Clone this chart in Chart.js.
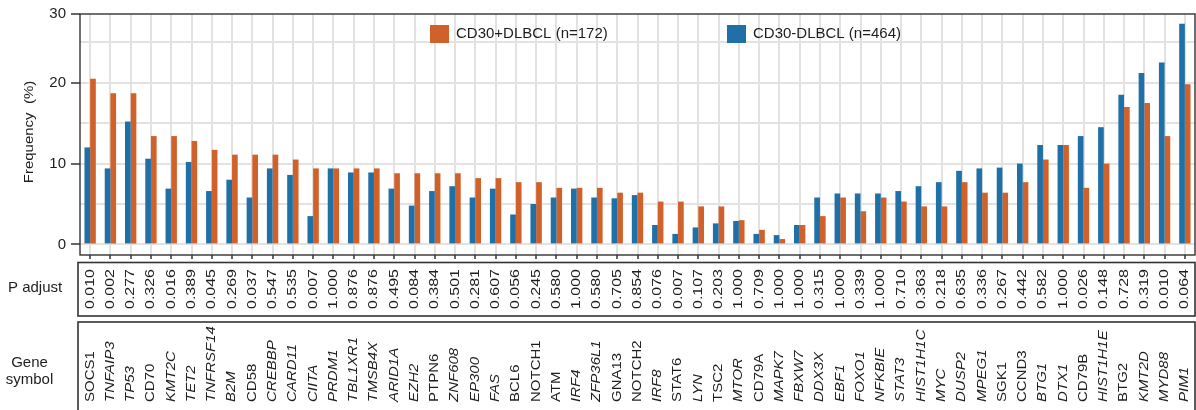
<!DOCTYPE html>
<html>
<head>
<meta charset="utf-8">
<script src="https://cdn.jsdelivr.net/npm/chart.js@4/dist/chart.umd.min.js"></script>
<style>
  html, body { margin: 0; padding: 0; background: #ffffff; }
  #wrap { width: 1196px; height: 410px; }
</style>
</head>
<body>
<div id="wrap"><canvas id="chart" width="1196" height="410"></canvas></div>
<script>
// Genes, ordered as drawn along the x axis
const genes = [
  'SOCS1','TNFAIP3','TP53','CD70','KMT2C','TET2','TNFRSF14','B2M','CD58','CREBBP',
  'CARD11','CIITA','PRDM1','TBL1XR1','TMSB4X','ARID1A','EZH2','PTPN6','ZNF608','EP300',
  'FAS','BCL6','NOTCH1','ATM','IRF4','ZFP36L1','GNA13','NOTCH2','IRF8','STAT6',
  'LYN','TSC2','MTOR','CD79A','MAPK7','FBXW7','DDX3X','EBF1','FOXO1','NFKBIE',
  'STAT3','HIST1H1C','MYC','DUSP2','MPEG1','SGK1','CCND3','BTG1','DTX1','CD79B',
  'HIST1H1E','BTG2','KMT2D','MYD88','PIM1'
];

// Adjusted p values per gene
const pAdjust = [
  '0.010','0.002','0.277','0.326','0.016','0.389','0.045','0.269','0.037','0.547',
  '0.535','0.007','1.000','0.876','0.876','0.495','0.084','0.384','0.501','0.281',
  '0.607','0.056','0.245','0.580','1.000','0.580','0.705','0.854','0.076','0.007',
  '0.107','0.203','1.000','0.709','1.000','1.000','0.315','1.000','0.339','1.000',
  '0.710','0.363','0.218','0.635','0.336','0.267','0.442','0.582','1.000','0.026',
  '0.148','0.728','0.319','0.010','0.064'
];

// Mutation frequency (%) in CD30-negative DLBCL
const cd30Negative = [
  12.0, 9.4, 15.2, 10.6, 6.9, 10.2, 6.6, 8.0, 5.8, 9.4,
  8.6, 3.5, 9.4, 8.9, 8.9, 6.9, 4.8, 6.6, 7.2, 5.8,
  6.9, 3.7, 5.0, 5.8, 6.9, 5.8, 5.7, 6.1, 2.4, 1.3,
  2.1, 2.6, 2.9, 1.3, 1.15, 2.4, 5.8, 6.3, 6.3, 6.3,
  6.6, 7.2, 7.7, 9.1, 9.4, 9.5, 10.0, 12.3, 12.3, 13.4,
  14.5, 18.5, 21.2, 22.5, 27.3
];

// Mutation frequency (%) in CD30-positive DLBCL
const cd30Positive = [
  20.5, 18.7, 18.7, 13.4, 13.4, 12.8, 11.7, 11.1, 11.1, 11.1,
  10.5, 9.4, 9.4, 9.4, 9.4, 8.8, 8.8, 8.8, 8.8, 8.2,
  8.2, 7.7, 7.7, 7.0, 7.0, 7.0, 6.4, 6.4, 5.3, 5.3,
  4.7, 4.7, 3.0, 1.8, 0.66, 2.4, 3.5, 5.8, 4.1, 5.8,
  5.3, 4.7, 4.7, 7.7, 6.4, 6.4, 7.7, 10.5, 12.3, 7.0,
  10.0, 17.0, 17.5, 13.4, 19.8
];

// Series names
const seriesNegative = 'CD30-DLBCL (n=464)';
const seriesPositive = 'CD30+DLBCL (n=172)';

// Y axis: gridlines every 5, labels at 0/10/20 and "30" at the top edge
const yGridValues = [0, 5, 10, 15, 20, 25];
const yLabelValues = [0, 10, 20];
const yTopLabel = '30';
const Y_MIN = -1.31;
const Y_MAX = 28.5;

// Gene symbols set in italics
const italicGenes = new Set([
  'TNFAIP3','TP53','KMT2C','TET2','TNFRSF14','B2M','CREBBP','CARD11','CIITA','PRDM1',
  'TBL1XR1','TMSB4X','ARID1A','EZH2','ZNF608','EP300','FAS','IRF4','ZFP36L1','IRF8',
  'LYN','MTOR','MAPK7','FBXW7','DDX3X','EBF1','FOXO1','NFKBIE','STAT3','HIST1H1C',
  'MYC','DUSP2','MPEG1','BTG1','DTX1','HIST1H1E','KMT2D','MYD88','PIM1'
]);

const BLUE = '#1f70a6';
const ORANGE = '#d1612a';
const FRAME = '#333333';
const GRID = '#e2e2e2';
const TEXT = '#1e1e1e';
const FAMILY = "'Liberation Sans', Arial, Helvetica, sans-serif";

function verticalText(ctx, text, x, y, align, font, squeeze) {
  ctx.save();
  ctx.translate(x, y);
  ctx.rotate(-Math.PI / 2);
  ctx.scale(1, squeeze);
  ctx.font = font;
  ctx.textAlign = align;
  ctx.textBaseline = 'middle';
  ctx.fillStyle = TEXT;
  ctx.fillText(text, 0, 0);
  ctx.restore();
}

// Frame, legend, axis title and the two annotation rows under the plot
const annotations = {
  id: 'annotations',
  afterDatasetsDraw(chart) {
    const { ctx, chartArea: a } = chart;
    ctx.save();
    ctx.strokeStyle = FRAME;
    ctx.lineWidth = 1.4;
    ctx.strokeRect(a.left, a.top, a.right - a.left, a.bottom - a.top);
    ctx.restore();
  },
  afterDraw(chart) {
    const { ctx, chartArea: a } = chart;
    const x = chart.scales.x;

    // legend inside the plot
    const items = [
      { label: seriesPositive, color: ORANGE, x: 430 },
      { label: seriesNegative, color: BLUE, x: 727 }
    ];
    ctx.save();
    ctx.font = '15px ' + FAMILY;
    ctx.textBaseline = 'middle';
    ctx.textAlign = 'left';
    items.forEach(it => {
      ctx.fillStyle = it.color;
      ctx.fillRect(it.x, 25, 19, 18);
      ctx.fillStyle = TEXT;
      ctx.fillText(it.label, it.x + 26, 34);
    });
    ctx.restore();

    // y axis title
    verticalText(ctx, 'Frequency  (%)', 29.5, 132, 'center', '15px ' + FAMILY, 0.86);

    // annotation boxes
    const boxLeft = a.left - 2;
    const boxRight = a.right;
    ctx.save();
    ctx.strokeStyle = FRAME;
    ctx.lineWidth = 1.6;
    ctx.strokeRect(boxLeft, 262.5, boxRight - boxLeft, 53.5);
    ctx.strokeRect(boxLeft, 322, boxRight - boxLeft, 100);
    ctx.restore();

    // row captions
    ctx.save();
    ctx.font = '15px ' + FAMILY;
    ctx.fillStyle = TEXT;
    ctx.textBaseline = 'middle';
    ctx.textAlign = 'left';
    ctx.fillText('P adjust', 8, 288);
    ctx.textAlign = 'center';
    ctx.fillText('Gene', 29.5, 363);
    ctx.fillText('symbol', 29.5, 380);
    ctx.restore();

    // p values and gene symbols, one column per category
    genes.forEach((g, i) => {
      const cx = x.getPixelForValue(i);
      verticalText(ctx, pAdjust[i], cx, 289, 'center', '16px ' + FAMILY, 0.8);
      const style = italicGenes.has(g) ? 'italic ' : '';
      verticalText(ctx, g, cx, 402, 'left', style + '15px ' + FAMILY, 0.82);
    });
  }
};

new Chart(document.getElementById('chart'), {
  type: 'bar',
  data: {
    labels: genes,
    datasets: [
      { label: seriesNegative, data: cd30Negative, backgroundColor: BLUE, borderWidth: 0 },
      { label: seriesPositive, data: cd30Positive, backgroundColor: ORANGE, borderWidth: 0 }
    ]
  },
  options: {
    responsive: false,
    animation: false,
    devicePixelRatio: 1,
    categoryPercentage: 0.56,
    barPercentage: 1.0,
    layout: { padding: { top: 12, right: 1, left: 0, bottom: 0 } },
    plugins: {
      legend: { display: false },
      tooltip: { enabled: false }
    },
    scales: {
      x: {
        type: 'category',
        offset: true,
        afterFit(scale) { scale.height = 155; },
        ticks: { display: false },
        border: { display: false },
        grid: {
          offset: false,
          color: GRID,
          lineWidth: 2,
          tickColor: FRAME,
          tickLength: 4,
          tickWidth: 1.5
        }
      },
      y: {
        min: Y_MIN,
        max: Y_MAX,
        afterFit(scale) { scale.width = 80; },
        afterBuildTicks(scale) {
          scale.ticks = yGridValues.concat([Y_MAX]).map(v => ({ value: v }));
        },
        border: { display: false },
        ticks: {
          autoSkip: false,
          padding: 5,
          color: TEXT,
          font: { size: 15, family: FAMILY },
          callback(value) {
            if (value === Y_MAX) return yTopLabel;
            return yLabelValues.includes(value) ? String(value) : '';
          }
        },
        grid: {
          lineWidth: 2,
          color(ctx) {
            return ctx.tick && ctx.tick.value !== Y_MAX ? GRID : 'rgba(0,0,0,0)';
          },
          tickLength: 9,
          tickWidth: 1.5,
          tickColor(ctx) {
            const v = ctx.tick ? ctx.tick.value : null;
            return (v === Y_MAX || yLabelValues.includes(v)) ? FRAME : 'rgba(0,0,0,0)';
          }
        }
      }
    }
  },
  plugins: [annotations]
});
</script>
</body>
</html>
